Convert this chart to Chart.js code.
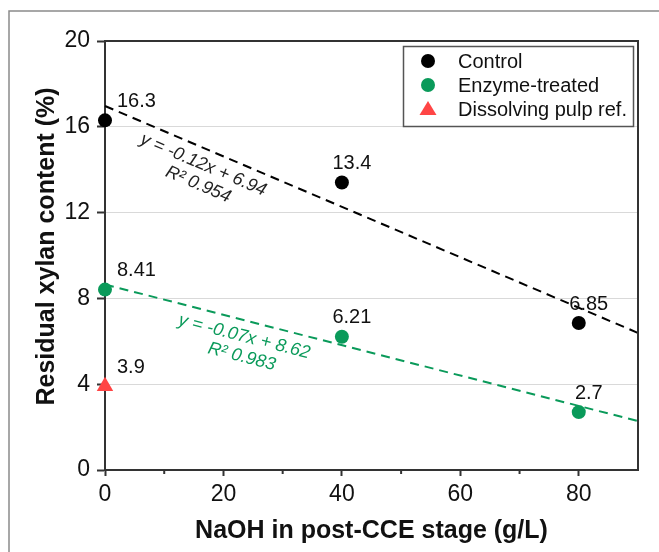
<!DOCTYPE html>
<html>
<head>
<meta charset="utf-8">
<script src="https://cdn.jsdelivr.net/npm/chart.js@4/dist/chart.umd.min.js"></script>
<style>
  html, body { margin: 0; background: #fff; }
  #wrap { width: 659px; height: 552px; }
</style>
</head>
<body>
<div id="wrap"><canvas id="chart" width="659" height="552"></canvas></div>
<script>
// values
const naoh = [0, 40, 80];
const control = [16.3, 13.4, 6.85];
const enzyme = [8.41, 6.21, 2.7];
const dissolvingX = [0];
const dissolving = [3.9];
const fitX = [0, 90];
const controlFit = [16.97, 6.39];
const enzymeFit = [8.65, 2.28];
const xMinor = [10, 30, 50, 70];
const controlEq = ['y = -0.12x + 6.94', 'R\u00b2 0.954'];
const enzymeEq = ['y = -0.07x + 8.62', 'R\u00b2 0.983'];
const yTitle = 'Residual xylan content (%)';

const GREEN = '#0a9a5a', RED = '#ff4545', INK = '#111', AXIS = '#333';
const FONT = "'Liberation Sans', Arial, sans-serif";
Chart.defaults.font.family = FONT;
Chart.defaults.color = INK;

const pts = (xs, ys) => xs.map((x, i) => ({ x: x, y: ys[i] }));

const extras = {
    id: 'extras',
    beforeDraw(chart) {
        const c = chart.ctx;
        c.save();
        c.fillStyle = '#fff';
        c.fillRect(0, 0, chart.width, chart.height);
        // outer frame (runs off the right and bottom)
        c.strokeStyle = '#8a8a8a'; c.lineWidth = 1.5;
        c.beginPath(); c.moveTo(9, chart.height); c.lineTo(9, 11); c.lineTo(chart.width, 11); c.stroke();
        c.restore();
    },
    afterDatasetsDraw(chart) {
        const c = chart.ctx;
        c.save();
        c.font = '20px ' + FONT; c.fillStyle = INK; c.textBaseline = 'middle';
        [0, 1, 2].forEach(di => {
            const ds = chart.data.datasets[di];
            chart.getDatasetMeta(di).data.forEach((el, i) => {
                const txt = String(ds.data[i].y);
                if (ds.data[i].x === 0) { c.textAlign = 'left'; c.fillText(txt, el.x + 12, el.y - 19); }
                else { c.textAlign = 'center'; c.fillText(txt, el.x + 10, el.y - 19); }
            });
        });
        c.restore();
    },
    afterDraw(chart) {
        const c = chart.ctx, a = chart.chartArea, sx = chart.scales.x, sy = chart.scales.y;
        c.save();
        // top / right box lines
        c.strokeStyle = AXIS; c.lineWidth = 2;
        c.beginPath(); c.moveTo(a.left, a.top); c.lineTo(a.right, a.top); c.lineTo(a.right, a.bottom); c.stroke();
        // minor x ticks
        xMinor.forEach(v => {
            const px = sx.getPixelForValue(v);
            c.beginPath(); c.moveTo(px, a.bottom); c.lineTo(px, a.bottom + 4); c.stroke();
        });
        // y axis title, sits a little above the plot centre in the original
        c.save();
        c.translate(47, (a.top + a.bottom) / 2 - 9);
        c.rotate(-Math.PI / 2);
        c.font = 'bold 25px ' + FONT; c.fillStyle = INK;
        c.textAlign = 'center'; c.textBaseline = 'middle';
        c.fillText(yTitle, 0, 0);
        c.restore();
        // fit equations along the dashed lines
        const eq = (lines, fit, ax, ay, off, color) => {
            const ang = Math.atan2(sy.getPixelForValue(fit[1]) - sy.getPixelForValue(fit[0]),
                                   sx.getPixelForValue(fitX[1]) - sx.getPixelForValue(fitX[0]));
            c.save();
            c.translate(sx.getPixelForValue(ax), sy.getPixelForValue(ay));
            c.rotate(ang);
            c.font = 'italic 18px ' + FONT; c.fillStyle = color;
            c.textAlign = 'center'; c.textBaseline = 'middle';
            c.fillText(lines[0], 0, 0);
            c.fillText(lines[1], off, 20);
            c.restore();
        };
        eq(controlEq, controlFit, 16.6, 14.22, 3, '#222');
        eq(enzymeEq, enzymeFit, 23.5, 6.21, 2.5, GREEN);
        // legend box
        c.strokeStyle = '#555'; c.lineWidth = 1.5;
        c.strokeRect(403.5, 46.5, 230, 80);
        const items = [
            { label: 'Control', color: '#000', shape: 'circle' },
            { label: 'Enzyme-treated', color: GREEN, shape: 'circle' },
            { label: 'Dissolving pulp ref.', color: RED, shape: 'triangle' }
        ];
        c.font = '20px ' + FONT; c.textAlign = 'left'; c.textBaseline = 'middle';
        items.forEach((it, i) => {
            const y = 61 + i * 24;
            c.fillStyle = it.color;
            c.beginPath();
            if (it.shape === 'circle') c.arc(428, y, 7, 0, Math.PI * 2);
            else { c.moveTo(428, y - 8); c.lineTo(436.5, y + 6); c.lineTo(419.5, y + 6); c.closePath(); }
            c.fill();
            c.fillStyle = INK;
            c.fillText(it.label, 458, y + 1);
        });
        c.restore();
    }
};

new Chart(document.getElementById('chart'), {
    type: 'scatter',
    data: {
        datasets: [
            { label: 'Control', data: pts(naoh, control), backgroundColor: '#000', pointRadius: 7, pointBorderWidth: 0, clip: false },
            { label: 'Enzyme-treated', data: pts(naoh, enzyme), backgroundColor: GREEN, pointRadius: 7, pointBorderWidth: 0, clip: false },
            { label: 'Dissolving pulp ref.', data: pts(dissolvingX, dissolving), backgroundColor: RED, pointStyle: 'triangle', pointRadius: 9.5, pointBorderWidth: 0, clip: false },
            { label: 'Control fit', data: pts(fitX, controlFit), showLine: true, borderColor: '#000', borderWidth: 2, borderDash: [9, 6], pointRadius: 0, fill: false, clip: false },
            { label: 'Enzyme fit', data: pts(fitX, enzymeFit), showLine: true, borderColor: GREEN, borderWidth: 2, borderDash: [9, 6], pointRadius: 0, fill: false, clip: false }
        ]
    },
    options: {
        responsive: false,
        animation: false,
        devicePixelRatio: 1,
        layout: { padding: { top: 41, right: 21, left: 0, bottom: 0 } },
        plugins: { legend: { display: false }, tooltip: { enabled: false } },
        scales: {
            x: {
                type: 'linear', position: 'bottom', min: 0, max: 90,
                ticks: { stepSize: 20, includeBounds: false, font: { size: 23 }, color: INK, padding: 5, maxRotation: 0 },
                grid: { drawOnChartArea: false, tickLength: 6, tickColor: AXIS, tickWidth: 2 },
                border: { color: AXIS, width: 2 },
                title: { display: true, text: 'NaOH in post-CCE stage (g/L)', font: { size: 25, weight: 'bold' }, color: INK, padding: { top: 0, bottom: 6 } },
                afterFit: s => { s.height = 82; }
            },
            y: {
                min: 0, max: 20,
                ticks: { stepSize: 4, font: { size: 23 }, color: INK, padding: 7 },
                grid: {
                    color: ctx => (ctx.tick && (ctx.tick.value === 0 || ctx.tick.value === 20)) ? 'rgba(0,0,0,0)' : '#d9d9d9',
                    lineWidth: 1, tickLength: 8, tickColor: AXIS, tickWidth: 2
                },
                border: { color: AXIS, width: 2 },
                title: { display: false },
                afterFit: s => { s.width = 105; }
            }
        }
    },
    plugins: [extras]
});
</script>
</body>
</html>
